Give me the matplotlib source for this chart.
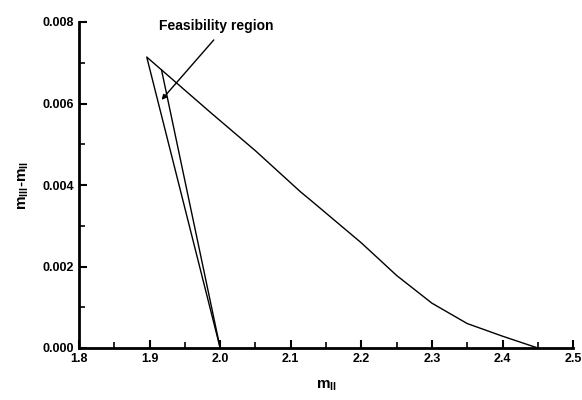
import matplotlib.pyplot as plt
from matplotlib.ticker import MultipleLocator

plt.rcParams['font.family'] = ['Liberation Sans', 'DejaVu Sans']

# outer boundary: left edge then upper curve
outer_x = [2.0, 1.896, 1.987, 2.05, 2.114, 2.128, 2.2, 2.25, 2.3, 2.35, 2.4, 2.45]
outer_y = [0.0, 0.00714, 0.00577, 0.00484, 0.00383, 0.00363, 0.00258, 0.00178, 0.00110, 0.00060, 0.00029, 0.0]

# inner boundary
inner_x = [1.917, 2.0]
inner_y = [0.00682, 0.0]

label_text = "Feasibility region"
label_xy = (1.995, 0.0079)
arrow_tail = (1.991, 0.00756)
arrow_head = (1.917, 0.00609)

fig = plt.figure(figsize=(5.82, 4.0), dpi=100)
ax = fig.add_axes([0.1357, 0.13, 0.849, 0.815])

ax.plot(outer_x, outer_y, color="k", lw=1.0)
ax.plot(inner_x, inner_y, color="k", lw=1.0)

ax.annotate("", xy=arrow_head, xytext=arrow_tail,
            arrowprops=dict(arrowstyle="-|>", color="k", lw=1.0,
                            mutation_scale=7, shrinkA=0, shrinkB=0))
ax.text(label_xy[0], label_xy[1], label_text, ha="center", va="center",
        fontsize=10, fontweight="bold")

ax.set_xlim(1.8, 2.5)
ax.set_ylim(0.0, 0.008)
ax.xaxis.set_major_locator(MultipleLocator(0.1))
ax.xaxis.set_minor_locator(MultipleLocator(0.05))
ax.yaxis.set_major_locator(MultipleLocator(0.002))
ax.yaxis.set_minor_locator(MultipleLocator(0.001))
ax.xaxis.set_major_formatter(plt.FuncFormatter(lambda v, p: "%.1f" % v))
ax.yaxis.set_major_formatter(plt.FuncFormatter(lambda v, p: "%.3f" % v))

ax.spines["top"].set_visible(False)
ax.spines["right"].set_visible(False)
ax.spines["left"].set_linewidth(2)
ax.spines["bottom"].set_linewidth(2)
ax.tick_params(which="major", direction="in", length=6, width=1.5, labelsize=9)
ax.tick_params(which="minor", direction="in", length=4, width=1.2)
for lab in ax.get_xticklabels() + ax.get_yticklabels():
    lab.set_fontweight("bold")

ax.set_xlabel(r"m$_{\mathregular{II}}$", fontsize=11, fontweight="bold", labelpad=10)
ax.set_ylabel(r"m$_{\mathregular{III}}$-m$_{\mathregular{II}}$", fontsize=11,
              fontweight="bold", labelpad=8)

fig.savefig("out.png", dpi=100)
